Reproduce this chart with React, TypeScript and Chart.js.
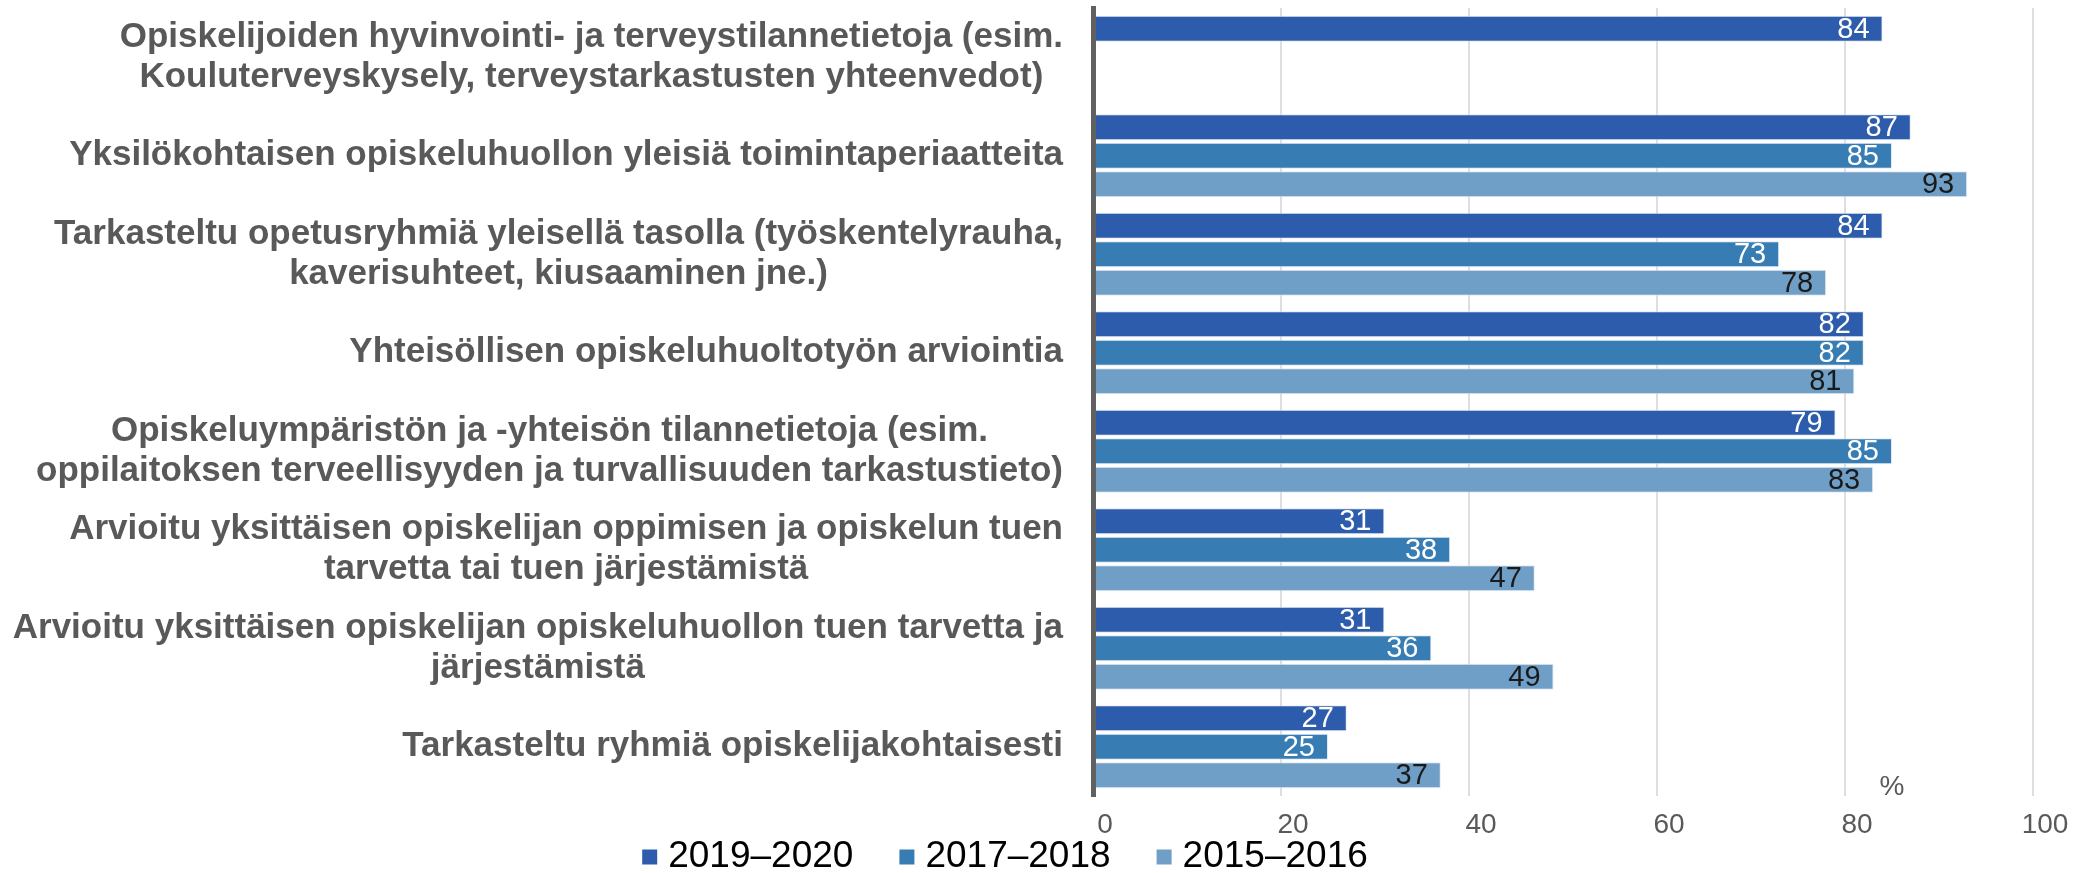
import React, { useEffect, useRef } from "react";
import { Chart, registerables } from "chart.js";

Chart.register(...registerables);

const categories: (string | string[])[] = [
  ["Opiskelijoiden hyvinvointi- ja terveystilannetietoja (esim.", "Kouluterveyskysely, terveystarkastusten yhteenvedot)"],
  "Yksilökohtaisen opiskeluhuollon yleisiä toimintaperiaatteita",
  ["Tarkasteltu opetusryhmiä yleisellä tasolla (työskentelyrauha,", "kaverisuhteet, kiusaaminen jne.)"],
  "Yhteisöllisen opiskeluhuoltotyön arviointia",
  ["Opiskeluympäristön ja -yhteisön tilannetietoja (esim.", "oppilaitoksen terveellisyyden ja turvallisuuden tarkastustieto)"],
  ["Arvioitu yksittäisen opiskelijan oppimisen ja opiskelun tuen", "tarvetta tai tuen järjestämistä"],
  ["Arvioitu yksittäisen opiskelijan opiskeluhuollon tuen tarvetta ja", "järjestämistä"],
  "Tarkasteltu ryhmiä opiskelijakohtaisesti",
];

const series2019_2020: (number | null)[] = [84, 87, 84, 82, 79, 31, 31, 27];
const series2017_2018: (number | null)[] = [null, 85, 73, 82, 85, 38, 36, 25];
const series2015_2016: (number | null)[] = [null, 93, 78, 81, 83, 47, 49, 37];

const seriesNames = ["2019–2020", "2017–2018", "2015–2016"];
const xTickValues = [0, 20, 40, 60, 80, 100];
const unitLabel = "%";

const seriesColors = ["#2E5CAC", "#377DB4", "#6F9FC6"];
const valueLabelColors = ["#FFFFFF", "#FFFFFF", "#1A1A1A"];
const FONT = '"Liberation Sans", Arial, sans-serif';

const customPlugin = {
  id: "customText",
  afterDatasetsDraw(chart: any) {
    const ctx = chart.ctx;
    chart.data.datasets.forEach((ds: any, di: number) => {
      const meta = chart.getDatasetMeta(di);
      meta.data.forEach((el: any, i: number) => {
        const v = ds.data[i];
        if (v === null || v === undefined) return;
        ctx.save();
        ctx.font = `29px ${FONT}`;
        ctx.fillStyle = valueLabelColors[di];
        ctx.textAlign = "right";
        ctx.textBaseline = "middle";
        ctx.fillText(String(v), el.x - 13, el.y + 1);
        ctx.restore();
      });
    });
  },
  afterDraw(chart: any) {
    const ctx = chart.ctx;
    const area = chart.chartArea;
    const yScale = chart.scales.y;
    const xScale = chart.scales.x;

    // category labels: block right-aligned, lines centred within block
    ctx.save();
    ctx.font = `bold 35px ${FONT}`;
    ctx.fillStyle = "#595959";
    ctx.textAlign = "center";
    ctx.textBaseline = "middle";
    const rightEdge = area.left - 30;
    const lineH = 40;
    chart.data.labels.forEach((lab: any, i: number) => {
      const lines: string[] = Array.isArray(lab) ? lab : [lab];
      const w = Math.max(...lines.map((l) => ctx.measureText(l).width));
      const cx = rightEdge - w / 2;
      const cy = yScale.getPixelForValue(i);
      lines.forEach((l, k) => {
        ctx.fillText(l, cx, cy + (k - (lines.length - 1) / 2) * lineH);
      });
    });
    ctx.restore();

    // unit label
    ctx.save();
    ctx.font = `28px ${FONT}`;
    ctx.fillStyle = "#595959";
    ctx.textAlign = "center";
    ctx.textBaseline = "middle";
    ctx.fillText(unitLabel, xScale.getPixelForValue(85), area.bottom - 9);
    ctx.restore();

    // legend
    ctx.save();
    ctx.font = `37px ${FONT}`;
    ctx.textBaseline = "middle";
    ctx.textAlign = "left";
    const box = 15;
    const gap = 11;
    const itemGap = 46;
    const widths = chart.data.datasets.map((d: any) => ctx.measureText(d.label).width);
    const total =
      widths.reduce((a: number, b: number) => a + b, 0) +
      chart.data.datasets.length * (box + gap) +
      (chart.data.datasets.length - 1) * itemGap;
    let x = chart.width / 2 - 40 - total / 2;
    const ly = 857;
    chart.data.datasets.forEach((d: any, i: number) => {
      ctx.fillStyle = d.backgroundColor;
      ctx.fillRect(x, ly - box / 2, box, box);
      x += box + gap;
      ctx.fillStyle = "#000000";
      ctx.fillText(d.label, x, ly);
      x += widths[i] + itemGap;
    });
    ctx.restore();
  },
};

export default function App() {
  const ref = useRef<HTMLCanvasElement | null>(null);

  useEffect(() => {
    if (!ref.current) return;
    const seriesData = [series2019_2020, series2017_2018, series2015_2016];
    const chart = new Chart(ref.current, {
      type: "bar",
      data: {
        labels: categories as any,
        datasets: seriesData.map((d, i) => ({
          label: seriesNames[i],
          data: d as any,
          backgroundColor: seriesColors[i],
          borderColor: "rgba(225,233,244,0.9)",
          borderWidth: 1,
          categoryPercentage: 0.867,
          barPercentage: 0.91,
        })),
      },
      options: {
        indexAxis: "y",
        responsive: false,
        animation: false,
        devicePixelRatio: 1,
        layout: { padding: { top: 8, right: 57, left: 0, bottom: 0 } },
        plugins: {
          legend: { display: false },
          tooltip: { enabled: false },
        },
        scales: {
          x: {
            type: "linear",
            position: "bottom",
            min: 0,
            max: 100,
            afterBuildTicks: (s: any) => {
              s.ticks = xTickValues.map((v) => ({ value: v }));
            },
            afterFit: (s: any) => {
              s.height = 77;
            },
            ticks: {
              font: { size: 28, family: FONT },
              color: "#595959",
              labelOffset: 12,
              padding: 12,
            },
            grid: { color: "#DEDEDE", lineWidth: 2, drawTicks: false },
            border: { display: false },
          },
          y: {
            type: "category",
            afterFit: (s: any) => {
              s.width = 1093;
            },
            ticks: { display: false },
            grid: { display: false, drawTicks: false },
            border: { display: true, color: "#606060", width: 5, z: 1 },
          },
        },
      } as any,
      plugins: [customPlugin],
    });
    return () => chart.destroy();
  }, []);

  return (
    <div style={{ position: "fixed", left: 0, top: 0, width: 2090, height: 873, background: "#fff" }}>
      <canvas ref={ref} width={2090} height={873} style={{ width: 2090, height: 873, display: "block" }} />
    </div>
  );
}
